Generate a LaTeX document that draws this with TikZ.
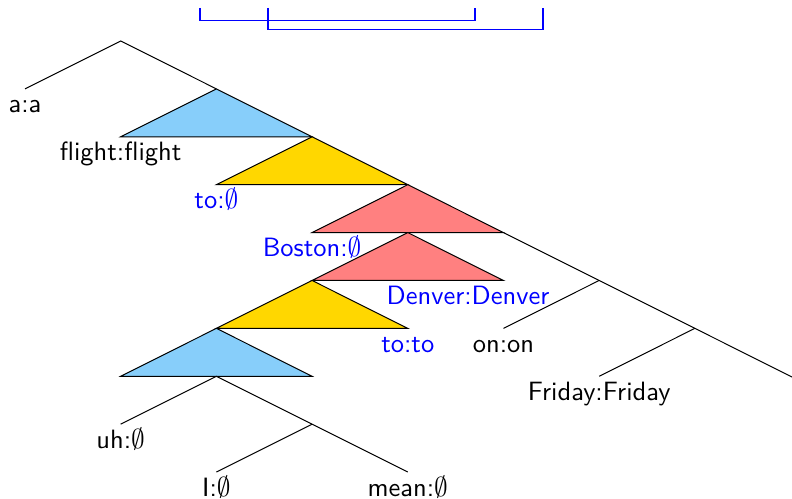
\documentclass[tikz,border=0pt]{standalone}
\usepackage{amsmath,amssymb}
\usepackage{xcolor}
\usepackage{tikz}
\usetikzlibrary{calc}
\renewcommand{\familydefault}{\sfdefault}
\definecolor{trblue}{RGB}{135,206,250}
\definecolor{tryellow}{RGB}{255,215,0}
\definecolor{trred}{RGB}{255,128,128}

\begin{document}
\begin{tikzpicture}[x=1.3455cm,y=0.6734cm,
  leaf/.style={anchor=base,yshift=-9.6pt,font=\fontsize{10.6}{12.7}\selectfont},
  fixlbl/.style={leaf,text=blue}]
  \useasboundingbox (-0.261,0.856) rectangle (8.015,-9.562);
  % spine of the tree
  \coordinate (root) at (1,0);
  \coordinate (a) at (0,-1);
  \coordinate (s1) at (2,-1);
  \coordinate (s2) at (3,-2);
  \coordinate (s3) at (4,-3);
  \coordinate (s4) at (5,-4);
  \coordinate (s5) at (6,-5);
  \coordinate (s6) at (7,-6);
  \coordinate (s7) at (8.2,-7.2);
  \coordinate (on) at (5,-6);
  \coordinate (fri) at (6,-7);
  % edited part
  \coordinate (r2) at (4,-4);
  \coordinate (y2) at (3,-5);
  \coordinate (b2) at (2,-6);
  \coordinate (m) at (2,-7);
  \coordinate (uh) at (1,-8);
  \coordinate (k) at (3,-8);
  \coordinate (i) at (2,-9);
  \coordinate (mean) at (4,-9);
  % brackets on top
  \coordinate (b1l) at (1.829,0.69);
  \coordinate (b1r) at (4.702,0.69);
  \coordinate (b2l) at (2.540,0.69);
  \coordinate (b2r) at (5.413,0.69);

  \draw (a)--(root)--(s1);
  \foreach \t/\c in {s1/trblue,s2/tryellow,s3/trred,r2/trred,y2/tryellow,b2/trblue}{
    \filldraw[fill=\c] (\t) -- ++(-1,-1) -- ++(2,0) -- cycle;
  }
  \draw (s4)--(s5)--(s6)--(s7);
  \draw (s5)--(on);
  \draw (s6)--(fri);
  \draw (uh)--(m)--(k)--(mean);
  \draw (k)--(i);
  \draw[blue,line width=0.6pt] (b1l) -- ++(0,-0.266) -| (b1r);
  \draw[blue,line width=0.6pt] (b2l) -- ++(0,-0.446) -| (b2r);

  \node[leaf] (la) at (a) {a:a};
  \node[leaf] (lflight) at (1,-2) {flight:flight};
  \node[fixlbl] (lto) at (2,-3) {to:$\emptyset$};
  \node[fixlbl] (lboston) at (3,-4) {Boston:$\emptyset$};
  \node[fixlbl] (ldenver) at (4.63,-5) {Denver:Denver};
  \node[fixlbl] (ltoto) at (4,-6) {to:to};
  \node[leaf] (lon) at (on) {on:on};
  \node[leaf] (lfri) at (fri) {Friday:Friday};
  \node[leaf] (luh) at (uh) {uh:$\emptyset$};
  \node[leaf] (li) at (i) {I:$\emptyset$};
  \node[leaf] (lmean) at (mean) {mean:$\emptyset$};
\end{tikzpicture}
\end{document}
